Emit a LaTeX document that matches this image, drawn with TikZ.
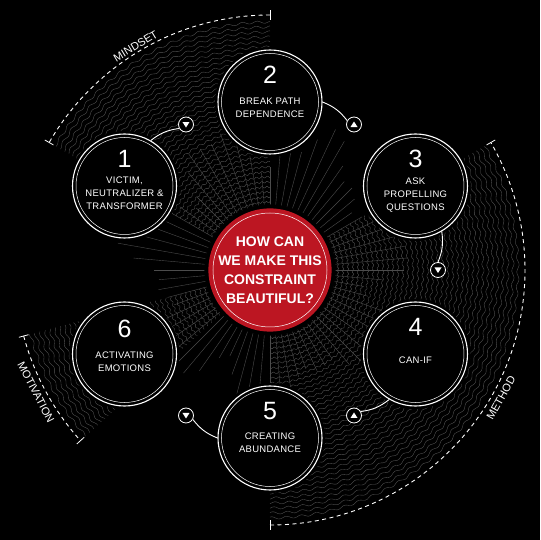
\documentclass[tikz,border=0pt]{standalone}
\usepackage{fontspec}
\setmainfont{Liberation Sans}

\definecolor{crimson}{RGB}{188,22,34}
\definecolor{wavegray}{gray}{0.34}
\definecolor{raygray}{gray}{0.30}

% wavy hatching in a fan: start angle, end angle, outer radius
\newcommand{\wavefan}[3]{%
	\pgfmathsetmacro\fanmid{(#1+#2)/2}
	\pgfmathsetmacro\fanhalf{(#2-#1)/2}
	\foreach \R in {68,73,...,#3}{
		\pgfmathtruncatemacro\nn{4*\fanhalf+6}
		\draw[wave] plot[smooth, domain=-\fanhalf:\fanhalf, samples=\nn, variable=\t]
		({\fanmid+\t}:{\R+(0.6+\R/400)*sin(105*\t+6*\R)});
	}
}

\tikzset{
	wave/.style={wavegray, line width=0.35pt},
	ray/.style={raygray, line width=0.4pt},
	rim/.style={white, line width=0.9pt, dash pattern=on 4pt off 3.5pt},
	rimtick/.style={white, line width=0.8pt},
	rimlabel/.style={text=white, inner sep=1pt, font=\fontsize{11}{13}\selectfont},
	core/.style={circle, fill=crimson, minimum size=120pt, inner sep=0pt, align=center, text=white,
		font=\fontsize{14}{19}\selectfont\bfseries,
		preaction={draw=black, line width=8pt},
		path picture={\draw[white, line width=0.5pt] (path picture bounding box.center) circle (57pt);}},
	stepring/.style={circle, draw=white, line width=1.1pt, fill=black, minimum size=104pt, inner sep=0pt,
		preaction={draw=black, line width=6pt},
		path picture={\draw[white, line width=0.5pt] (path picture bounding box.center) circle (48.5pt);}},
	stepnum/.style={text=white, inner sep=0pt, font=\fontsize{25}{25}\selectfont},
	steptxt/.style={text=white, inner sep=0pt, align=center, font=\fontsize{9.5}{13}\selectfont\addfontfeature{LetterSpace=3}},
	tipbox/.style={circle, draw=white, line width=0.8pt, fill=black, minimum size=15pt, inner sep=0pt},
	tipup/.style={path picture={\fill[white] ([yshift=3]path picture bounding box.center) -- ++(-3.5,-5.5) -- ++(7,0) -- cycle;}},
	tipdown/.style={path picture={\fill[white] ([yshift=-3]path picture bounding box.center) -- ++(-3.5,5.5) -- ++(7,0) -- cycle;}},
	link/.style={white, line width=0.9pt},
}

\begin{document}
\begin{tikzpicture}[x=1pt,y=1pt]
	
	\fill[black] (-270,-270) rectangle (270,270);
	\useasboundingbox (-270,-270) rectangle (270,270);
	
	% the three hatched fans
	\wavefan{90}{150}{248}
	\wavefan{-90}{30}{250}
	\wavefan{195}{222}{250}
	
	% rays out of the centre
	\foreach \a in {0,5,...,355}
	\draw[ray] (\a:64) -- (\a:{125+22*sin(7*\a)+9*cos(17*\a)});
	
	% dashed rims with end ticks
	\foreach \f/\t in {90/150, -90/30, 195/222}{
		\draw[rim] (\f:255) arc[start angle=\f, end angle=\t, radius=255];
		\draw[rimtick] (\f:250) -- (\f:260);
		\draw[rimtick] (\t:250) -- (\t:260);
	}
	
	\node[rimlabel, anchor=south, rotate=31] (mindset) at (121:256) {MINDSET};
	\node[rimlabel, anchor=north, rotate=61] (method) at (-29:259) {METHOD};
	\node[rimlabel, anchor=north, rotate=-62.4] (motivation) at (207.6:259) {MOTIVATION};
	
	% centre question
	\node[core] (core) at (0,0) {HOW CAN\\WE MAKE THIS\\CONSTRAINT\\BEAUTIFUL?};
	
	% the six steps
	\foreach \i/\a in {1/150,2/90,3/30,4/-30,5/-90,6/-150}
	\node[stepring] (n\i) at (\a:168) {};
	
	% small markers between steps
	\node[tipbox, tipdown] (k1) at (120:168) {};
	\node[tipbox, tipup]   (k2) at (60:168) {};
	\node[tipbox, tipdown] (k3) at (0:168) {};
	\node[tipbox, tipup]   (k4) at (-60:168) {};
	\node[tipbox, tipdown] (k5) at (-120:168) {};
	
	\draw[link] (n1) to[bend left=15] (k1);
	\draw[link] (n2) to[bend left=15] (k2);
	\draw[link] (n3) to[bend left=15] (k3);
	\draw[link] (n4) to[bend left=15] (k4);
	\draw[link] (n5) to[bend left=15] (k5);
	
	\node[stepnum] (n1num) at ([yshift=27]n1.center) {1};
	\node[stepnum] (n2num) at ([yshift=27]n2.center) {2};
	\node[stepnum] (n3num) at ([yshift=27]n3.center) {3};
	\node[stepnum] (n4num) at ([yshift=27]n4.center) {4};
	\node[stepnum] (n5num) at ([yshift=27]n5.center) {5};
	\node[stepnum] (n6num) at ([yshift=25]n6.center) {6};
	
	\node[steptxt] (n1txt) at ([yshift=-7]n1.center) {VICTIM,\\NEUTRALIZER \&\\TRANSFORMER};
	\node[steptxt] (n2txt) at ([yshift=-6]n2.center) {BREAK PATH\\DEPENDENCE};
	\node[steptxt] (n3txt) at ([yshift=-9]n3.center) {ASK\\PROPELLING\\QUESTIONS};
	\node[steptxt] (n4txt) at ([yshift=-6]n4.center) {CAN-IF};
	\node[steptxt] (n5txt) at ([yshift=-5]n5.center) {CREATING\\ABUNDANCE};
	\node[steptxt] (n6txt) at ([yshift=-8]n6.center) {ACTIVATING\\EMOTIONS};
	
\end{tikzpicture}
\end{document}
